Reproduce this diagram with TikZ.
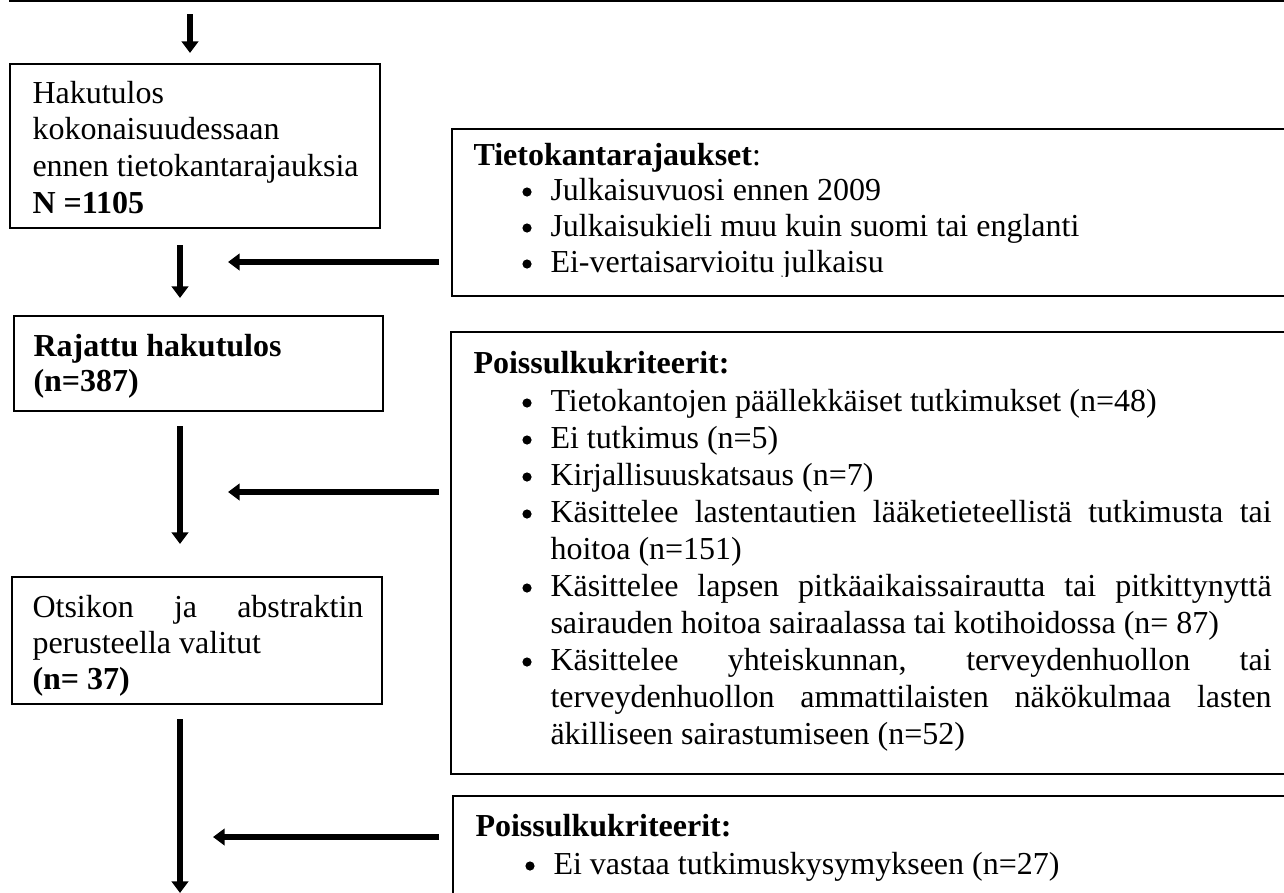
\documentclass[tikz,border=0pt]{standalone}
\usepackage{fontspec}
\setmainfont{Liberation Serif}
\usetikzlibrary{arrows.meta,fit}
\begin{document}
\begin{tikzpicture}[x=0.375pt,y=-0.375pt,
  font=\fontsize{12}{14}\selectfont,
  frame/.style={draw, line width=0.95pt, inner sep=0pt},
  txt/.style={anchor=base west, inner sep=0pt},
  flow/.style={line width=2.4pt, -{Triangle[width=6.2pt,length=4.4pt]}},
  bul/.style={fill=black}
]
\useasboundingbox (0,0) rectangle (1284,892);
\clip (0,0) rectangle (1284,892);

% boxes
\node[frame, fit={(10,-80) (1320,1)}] (b0) {};
\node[frame, fit={(10,64) (380,228)}] (b1) {};
\node[frame, fit={(452,129) (1320,296)}] (r1) {};
\node[frame, fit={(14,316) (383,411)}] (b2) {};
\node[frame, fit={(451,332) (1320,774)}] (r2) {};
\node[frame, fit={(12,577) (382,704)}] (b3) {};
\node[frame, fit={(453,796) (1320,980)}] (r3) {};

% arrow end points
\coordinate (a1s) at (190,14);  \coordinate (a1e) at (190,53);
\coordinate (a2s) at (180,245); \coordinate (a2e) at (180,298);
\coordinate (h1s) at (439,262); \coordinate (h1e) at (228,262);
\coordinate (a3s) at (180,426); \coordinate (a3e) at (180,544);
\coordinate (h2s) at (439,492); \coordinate (h2e) at (228,492);
\coordinate (a4s) at (180,719); \coordinate (a4e) at (180,893);
\coordinate (h3s) at (439,837); \coordinate (h3e) at (213,837);

\draw[flow, line width=2.1pt] (a1s) -- (a1e);
\draw[flow] (a2s) -- (a2e);
\draw[flow] (h1s) -- (h1e);
\draw[flow] (a3s) -- (a3e);
\draw[flow] (h2s) -- (h2e);
\draw[flow] (a4s) -- (a4e);
\draw[flow] (h3s) -- (h3e);

% box 1
\node[txt] (t11) at (32,103) {Hakutulos};
\node[txt] (t12) at (32,139) {kokonaisuudessaan};
\node[txt] (t13) at (32,176) {ennen tietokantarajauksia};
\node[txt] (t14) at (32,213) {\textbf{N =1105}};

% right box 1
\node[txt] (r1h) at (473,165) {\textbf{Tietokantarajaukset}:};
\fill[bul] (527,192) circle (4.6);
\fill[bul] (527,228) circle (4.6);
\fill[bul] (527,264) circle (4.6);
\node[txt] (r11) at (550,200) {Julkaisuvuosi ennen 2009};
\node[txt] (r12) at (550,236) {Julkaisukieli muu kuin suomi tai englanti};
\begin{scope}
\clip (540,240) rectangle (1284,276);
\node[txt] (r13) at (550,272) {Ei-vertaisarvioitu julkaisu};
\end{scope}

% box 2
\node[txt] (t21) at (33,356) {\textbf{Rajattu hakutulos}};
\node[txt] (t22) at (33,391) {\textbf{(n=387)}};

% right box 2
\node[txt] (r2h) at (473,373) {\textbf{Poissulkukriteerit:}};
\foreach \yy in {403,440,477,514,588,662} {\fill[bul] (527,\yy) circle (4.6);}
\node[txt] (r21) at (550,411) {Tietokantojen päällekkäiset tutkimukset (n=48)};
\node[txt] (r22) at (550,448) {Ei tutkimus (n=5)};
\node[txt] (r23) at (550,485) {Kirjallisuuskatsaus (n=7)};
\node[txt] (r24) at (550,522) {\makebox[270.4pt][s]{Käsittelee lastentautien lääketieteellistä tutkimusta tai}};
\node[txt] (r25) at (550,559) {hoitoa (n=151)};
\node[txt] (r26) at (550,596) {\makebox[270.4pt][s]{Käsittelee lapsen pitkäaikaissairautta tai pitkittynyttä}};
\node[txt] (r27) at (550,633) {sairauden hoitoa sairaalassa tai kotihoidossa (n= 87)};
\node[txt] (r28) at (550,670) {\makebox[270.4pt][s]{Käsittelee yhteiskunnan, terveydenhuollon tai}};
\node[txt] (r29) at (550,707) {\makebox[270.4pt][s]{terveydenhuollon ammattilaisten näkökulmaa lasten}};
\node[txt] (r210) at (550,744) {äkilliseen sairastumiseen (n=52)};

% box 3
\node[txt] (t31) at (32,617) {\makebox[124.1pt][s]{Otsikon ja abstraktin}};
\node[txt] (t32) at (32,653) {perusteella valitut};
\node[txt] (t33) at (32,689) {\textbf{(n= 37)}};

% right box 3
\node[txt] (r3h) at (475,836) {\textbf{Poissulkukriteerit:}};
\fill[bul] (530,866) circle (4.6);
\node[txt] (r31) at (553,874) {Ei vastaa tutkimuskysymykseen (n=27)};
\end{tikzpicture}
\end{document}
